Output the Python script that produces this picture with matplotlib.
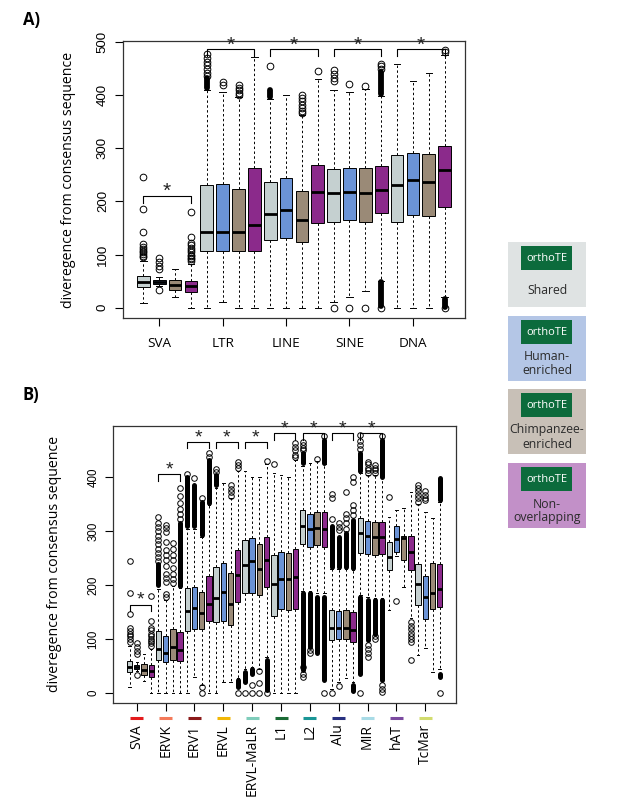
import matplotlib
matplotlib.use('Agg')
import matplotlib.pyplot as plt
from matplotlib.patches import Rectangle
from matplotlib import transforms

plt.rcParams['font.family'] = ['Open Sans', 'DejaVu Sans']

# fill colours: shared, human-enriched, chimpanzee-enriched, non-overlapping
box_colors = ['#c5d0d0', '#6b93d6', '#9a8a77', '#8b2a8b']

# ---------------- panel A data ----------------
a_groups = ['SVA', 'LTR', 'LINE', 'SINE', 'DNA']
a_q1 = [38, 45, 33, 30, 107, 107, 107, 107, 128, 131, 123, 160,
        162, 165, 162, 179, 162, 175, 173, 190]
a_med = [49, 48, 43, 40, 143, 142, 142, 155, 177, 184, 165, 217,
         215, 217, 215, 222, 231, 240, 237, 259]
a_q3 = [60, 52, 53, 51, 230, 232, 224, 263, 236, 243, 220, 269,
        261, 262, 263, 267, 288, 291, 289, 304]
a_lo = [9, 40, 21, 0, 0, 11, 0, 0, 0, 0, 0, 0,
        11, 20, 31, 50, 0, 0, 0, 20]
a_hi = [88, 58, 72, 82, 410, 405, 396, 471, 392, 400, 362, 430,
        410, 405, 412, 398, 459, 426, 442, 476]
a_fliers = [
    [95, 98, 101, 104, 107, 110, 114, 120, 143, 185, 245],
    [33, 73, 78, 86, 93],
    [],
    [88, 91, 94, 97, 100, 104, 108, 112, 117, 122, 133, 180],
    [436, 442, 449, 456, 463, 470, 477],
    [418, 424],
    [400, 404, 409, 414, 419],
    [],
    [455],
    [],
    [366, 370, 375, 381, 388, 395, 400],
    [446],
    [0, 427, 432, 440, 447],
    [0, 420],
    [0, 417],
    [0, 449, 454, 459],
    [],
    [],
    [],
    [0, 481, 484],
]
# runs of outliers so dense they print as a solid black band: (box, lo, hi)
a_dense = [(5, 413, 432), (9, 396, 410), (16, 3, 48), (16, 402, 444), (20, 2, 16)]
a_star_y = [210, 486, 486, 486, 486]

# ---------------- panel B data ----------------
b_groups = ['SVA', 'ERVK', 'ERV1', 'ERVL', 'ERVL-MaLR', 'L1', 'L2', 'Alu',
            'MIR', 'hAT', 'TcMar']
b_group_colors = ['#e41a1c', '#f47a5a', '#8b1a1a', '#f2b705', '#7fcdbb',
                  '#1b6b35', '#1a9696', '#283080', '#a8dbe6', '#7b4aa0',
                  '#d2dc6e']
b_q1 = [[38, 45, 33, 30], [61, 57, 61, 59], [115, 119, 118, 134],
        [132, 134, 127, 169], [185, 186, 182, 196], [143, 156, 154, 155],
        [276, 270, 275, 270], [98, 100, 100, 95], [259, 258, 256, 258],
        [229, 262, 247, 228], [163, 137, 155, 160]]
b_med = [[49, 48, 43, 40], [81, 75, 86, 80], [153, 157, 149, 166],
         [176, 187, 166, 218], [237, 244, 230, 247], [203, 212, 211, 216],
         [309, 305, 307, 305], [121, 121, 121, 117], [296, 292, 290, 290],
         [252, 285, 287, 262], [202, 179, 185, 193]]
b_q3 = [[60, 52, 53, 51], [115, 105, 118, 114], [194, 197, 188, 217],
        [233, 242, 222, 266], [284, 288, 276, 290], [256, 262, 259, 267],
        [339, 333, 336, 335], [154, 153, 154, 151], [325, 320, 317, 317],
        [281, 309, 292, 292], [239, 217, 242, 239]]
b_lo = [[12, 40, 23, 0], [0, 0, 0, 0], [0, 30, 15, 0], [0, 21, 20, 27],
        [45, 48, 45, 66], [0, 0, 0, 0], [190, 190, 185, 185],
        [8, 21, 27, 20], [182, 178, 176, 176], [154, 254, 197, 140],
        [70, 83, 38, 45]]
b_hi = [[88, 58, 72, 82], [192, 172, 198, 195], [305, 305, 289, 348],
        [380, 390, 362, 412], [411, 401, 400, 425], [408, 405, 400, 432],
        [422, 426, 430, 424], [230, 230, 230, 228], [408, 405, 405, 398],
        [327, 340, 344, 373], [350, 335, 325, 355]]
b_fliers = [
    [[95, 100, 105, 110, 115, 121, 146, 186, 245], [33, 72, 78, 86, 93], [],
     [88, 92, 96, 100, 105, 110, 116, 121, 133, 180]],
    [[244, 252, 260, 268, 276, 284, 292, 300, 308, 316, 326],
     [179, 183, 206, 213, 221, 236, 246, 256, 266, 281, 298, 306, 312],
     [204, 212, 221, 232, 246, 256, 268, 278],
     [322, 332, 342, 352, 366, 380]],
    [[406], [398], [0, 12, 361], [438, 446]],
    [[410, 415], [], [366, 372, 378, 385], [0, 417, 423, 429]],
    [[0], [0, 14], [0, 19, 40], [0, 431]],
    [[424], [], [], [437, 442, 450, 457, 463]],
    [[30, 36, 49, 450, 455, 460, 465], [75, 80], [435], [0, 476]],
    [[0, 323, 361, 370], [13, 302, 308, 315], [305, 315, 325, 333, 373],
     [330, 340, 349, 392, 401]],
    [[0, 452, 460, 468, 479], [67, 75, 82, 89, 409, 413, 418, 424, 429],
     [100, 105, 408, 413, 418, 423], [2, 8, 15, 476]],
    [[364], [171], [], [61, 95, 100, 106, 112, 118, 124, 132]],
    [[355, 362, 368, 375, 380, 386], [358, 362, 368, 375], [], [0]],
]
# (group, member, lo, hi)
b_dense = [
    (1, 0, 200, 240), (1, 3, 198, 315),
    (2, 0, 309, 400), (2, 1, 309, 386), (2, 2, 293, 355), (2, 3, 352, 432),
    (3, 0, 385, 405), (3, 3, 12, 24),
    (4, 0, 21, 39), (4, 1, 35, 44), (4, 3, 6, 61),
    (6, 0, 426, 445), (6, 0, 43, 186), (6, 1, 86, 185), (6, 2, 74, 179),
    (6, 3, 427, 469), (6, 3, 24, 179),
    (7, 0, 234, 309), (7, 1, 234, 290), (7, 2, 234, 296), (7, 3, 232, 321),
    (7, 3, 3, 15),
    (8, 0, 411, 445), (8, 0, 36, 179), (8, 1, 98, 172), (8, 2, 110, 172),
    (8, 3, 401, 469), (8, 3, 24, 172),
    (10, 3, 358, 398), (10, 3, 29, 36),
]
b_star_y = [164, 406, 466, 466, 466, 482, 482, 482, 482]

legend_labels = ['Shared', 'Human-\nenriched', 'Chimpanzee-\nenriched',
                 'Non-\noverlapping']
legend_colors = ['#dfe3e3', '#b4c6e6', '#c8c0b7', '#c290c8']


def flat(v):
    return [x for g in v for x in g]


def draw_boxes(ax, q1, med, q3, lo, hi, fliers, width, ms, capw):
    stats = []
    for i in range(len(q1)):
        stats.append(dict(q1=q1[i], med=med[i], q3=q3[i], whislo=lo[i],
                          whishi=hi[i], fliers=fliers[i]))
    pos = list(range(1, len(q1) + 1))
    bp = ax.bxp(stats, positions=pos, widths=width, patch_artist=True,
                manage_ticks=False, capwidths=capw,
                boxprops=dict(edgecolor='black', linewidth=0.7),
                whiskerprops=dict(color='black', linewidth=0.7,
                                  linestyle=(0, (2.5, 2.5))),
                capprops=dict(color='black', linewidth=0.7),
                medianprops=dict(color='black', linewidth=2),
                flierprops=dict(marker='o', markerfacecolor='none',
                                markeredgecolor='black', markersize=ms,
                                markeredgewidth=0.7))
    for i, patch in enumerate(bp['boxes']):
        patch.set_facecolor(box_colors[i % 4])
        patch.set_zorder(2.5)
    for m in bp['medians']:
        m.set_zorder(2.6)
    return pos


def brackets(ax, ys, drop, size):
    for g, y in enumerate(ys):
        x1, x2 = 4 * g + 1, 4 * g + 4
        ax.plot([x1, x1, x2, x2], [y - drop, y, y, y - drop], color='black',
                lw=0.8, clip_on=False)
        ax.text((x1 + x2) / 2, y + 8, '*', ha='center', va='center',
                fontsize=size, family='Liberation Sans', color='#222222',
                clip_on=False)


def style_axes(ax):
    for sp in ax.spines.values():
        sp.set_linewidth(0.9)
        sp.set_color('#333333')


fig = plt.figure(figsize=(6.17, 8.10), dpi=100)

# ---------------- panel A ----------------
ax_a = fig.add_axes([0.199, 0.607, 0.555, 0.342])
draw_boxes(ax_a, a_q1, a_med, a_q3, a_lo, a_hi, a_fliers, 0.8, 4.8, 0.4)
ax_a.vlines([d[0] for d in a_dense], [d[1] for d in a_dense],
            [d[2] for d in a_dense], colors='black', linewidth=4.2,
            capstyle='round', zorder=3)
brackets(ax_a, a_star_y, 13, 15)
ax_a.set_xlim(-0.3, 21.3)
ax_a.set_ylim(-20, 501)
ax_a.set_xticks([4 * i + 2 for i in range(len(a_groups))], labels=a_groups,
                fontsize=9.7)
ax_a.set_yticks([0, 100, 200, 300, 400, 500],
                labels=['0', '100', '200', '300', '400', '500'],
                rotation=90, va='center', fontsize=9.5,
                family='Liberation Sans')
ax_a.tick_params(axis='x', length=5.5, width=0.8, pad=8)
ax_a.tick_params(axis='y', length=6, width=0.8, pad=4)
ax_a.set_ylabel('diveregence from consensus sequence', fontsize=10.2)
ax_a.yaxis.set_label_coords(-0.137, 0.5)
style_axes(ax_a)

# ---------------- panel B ----------------
ax_b = fig.add_axes([0.1836, 0.1325, 0.5555, 0.342])
bpos = draw_boxes(ax_b, flat(b_q1), flat(b_med), flat(b_q3), flat(b_lo),
                  flat(b_hi), flat(b_fliers), 0.75, 4.0, 0.35)
ax_b.vlines([4 * d[0] + d[1] + 1 for d in b_dense], [d[2] for d in b_dense],
            [d[3] for d in b_dense], colors='black', linewidth=3.6,
            capstyle='round', zorder=3)
brackets(ax_b, b_star_y, 12, 14)
ax_b.set_xlim(-1.26, 46.26)
ax_b.set_ylim(-18, 496)
b_ticks = [4 * i + 2 for i in range(len(b_groups))]
ax_b.set_xticks(b_ticks, labels=b_groups, rotation=90, va='top', ha='center',
                fontsize=10)
ax_b.set_yticks([0, 100, 200, 300, 400],
                labels=['0', '100', '200', '300', '400'],
                rotation=90, va='center', fontsize=8.3,
                family='Liberation Sans')
ax_b.tick_params(axis='x', length=5.5, width=0.8, pad=10)
ax_b.tick_params(axis='y', length=6, width=0.8, pad=4)
ax_b.set_ylabel('diveregence from consensus sequence', fontsize=10.2)
ax_b.yaxis.set_label_coords(-0.150, 0.5)
style_axes(ax_b)
# coloured family keys under the x ticks
trans = transforms.blended_transform_factory(ax_b.transData, ax_b.transAxes)
for t, c in zip(b_ticks, b_group_colors):
    ax_b.plot([t - 0.9, t + 0.9], [-0.055, -0.055], color=c, lw=2.2,
              transform=trans, clip_on=False, solid_capstyle='butt')

# ---------------- panel letters ----------------
fig.text(23 / 617, 1 - 20 / 810, 'A)', fontsize=12, fontweight='bold',
         va='center')
fig.text(23 / 617, 1 - 395 / 810, 'B)', fontsize=12, fontweight='bold',
         va='center')

# ---------------- legend ----------------
lg = fig.add_axes([0, 0, 1, 1])
lg.set_xlim(0, 617)
lg.set_ylim(810, 0)
lg.axis('off')
lg.patch.set_alpha(0)
tops = [242, 316, 389, 463]
for top, lab, col in zip(tops, legend_labels, legend_colors):
    lg.add_patch(Rectangle((508, top), 78, 65, facecolor=col, edgecolor='none'))
    lg.add_patch(Rectangle((521, top + 4), 51, 24, facecolor='#0c6b3c',
                           edgecolor='none'))
    lg.text(546.5, top + 16.5, 'orthoTE', color='white', fontsize=8,
            ha='center', va='center')
    lg.text(547, top + 48, lab, color='#2b2b2b', fontsize=8.8, ha='center',
            va='center', linespacing=1.1)

fig.savefig('out.png', dpi=100)
